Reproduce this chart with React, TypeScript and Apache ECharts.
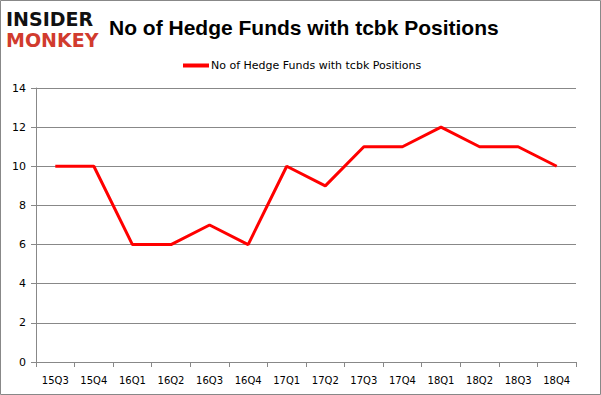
import React, { useEffect, useRef } from "react";
import * as echarts from "echarts";

const categories = ["15Q3","15Q4","16Q1","16Q2","16Q3","16Q4","17Q1","17Q2","17Q3","17Q4","18Q1","18Q2","18Q3","18Q4"];
const values = [10,10,6,6,7,6,10,9,11,11,12,11,11,10];
const seriesName = "No of Hedge Funds with tcbk Positions";
const titleText = "No of Hedge Funds with tcbk Positions";

export default function App() {
  const ref = useRef<HTMLDivElement>(null);
  useEffect(() => {
    const chart = echarts.init(ref.current!, null, { renderer: "svg" });
    chart.setOption({
      animation: false,
      backgroundColor: "#ffffff",
      title: {
        text: titleText,
        left: 104,
        top: 12,
        textStyle: { fontFamily: "Liberation Sans", fontWeight: "bold", fontSize: 21, color: "#000" },
      },
      graphic: [
        { type: "rect", shape: { x: 0.5, y: 0.5, width: 600, height: 394 }, style: { fill: "none", stroke: "#888", lineWidth: 1 } },
        { type: "text", x: 6, y: 9, style: { text: "INSIDER", fontFamily: "DejaVu Sans", fontWeight: 900, fontSize: 19, fill: "#111", letterSpacing: -1 } },
        { type: "text", x: 6, y: 30, style: { text: "MONKEY", fontFamily: "DejaVu Sans", fontWeight: 900, fontSize: 19, fill: "#d13b2e", letterSpacing: -1 } },
      ],
      legend: {
        data: [seriesName],
        top: 55,
        left: 178,
        itemWidth: 26,
        itemHeight: 4,
        itemGap: 2,
        icon: "rect",
        textStyle: { fontFamily: "DejaVu Sans", fontSize: 11, color: "#000", padding: [0, 0, 0, -3] },
      },
      grid: { left: 36, right: 25, top: 88, bottom: 33 },
      xAxis: {
        type: "category",
        data: categories,
        boundaryGap: true,
        axisLine: { lineStyle: { color: "#888" } },
        axisTick: { show: true, length: 5, lineStyle: { color: "#888" } },
        axisLabel: { fontFamily: "DejaVu Sans", fontSize: 10, color: "#000", margin: 13 },
      },
      yAxis: {
        type: "value",
        min: 0,
        max: 14,
        interval: 2,
        axisLine: { show: true, lineStyle: { color: "#888" } },
        axisTick: { show: true, length: 5, lineStyle: { color: "#888" } },
        splitLine: { lineStyle: { color: "#888" } },
        axisLabel: { fontFamily: "DejaVu Sans", fontSize: 11, color: "#000", margin: 10 },
      },
      series: [
        {
          name: seriesName,
          type: "line",
          data: values,
          symbol: "none",
          lineStyle: { color: "#ff0000", width: 3 },
          itemStyle: { color: "#ff0000" },
        },
      ],
    });
    return () => chart.dispose();
  }, []);
  return <div ref={ref} style={{ width: 601, height: 395, position: "absolute", left: 0, top: 0 }} />;
}
